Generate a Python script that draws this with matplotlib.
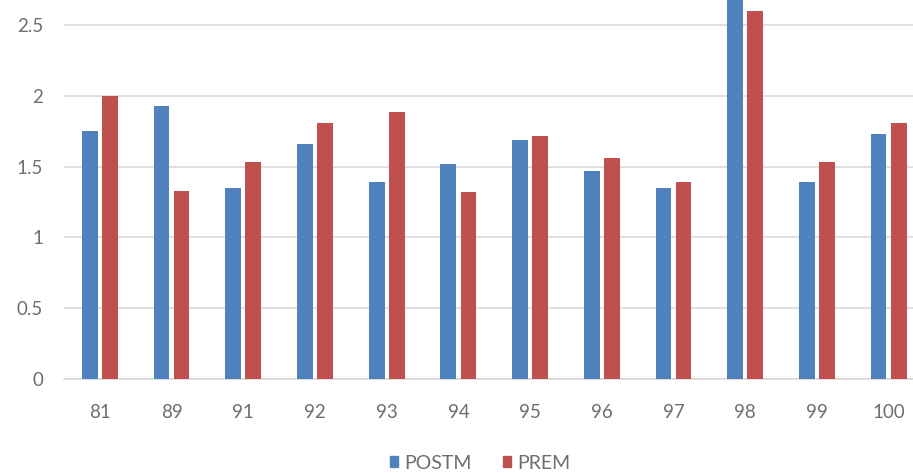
import matplotlib
matplotlib.use('Agg')

import numpy as np
import matplotlib.pyplot as plt
from matplotlib.patches import Patch

categories = ['81', '89', '91', '92', '93', '94', '95', '96', '97', '98', '99', '100']
postm = [1.75, 1.93, 1.35, 1.66, 1.39, 1.52, 1.69, 1.47, 1.35, 2.72, 1.39, 1.73]
prem = [2.00, 1.33, 1.53, 1.81, 1.89, 1.32, 1.72, 1.56, 1.39, 2.60, 1.53, 1.81]
y_ticks = [0, 0.5, 1, 1.5, 2, 2.5]

blue = '#4F81BD'
red = '#C0504D'
text_color = '#6E6E6E'

plt.rcParams['font.family'] = ['Lato', 'DejaVu Sans']

fig = plt.figure(figsize=(9.13, 4.73), dpi=100)
ax = fig.add_axes([64 / 913, 1 - 379 / 473, 1 - 64 / 913, 379 / 473])

x = np.arange(len(categories))
width = 0.22
ax.bar(x - 0.14, postm, width, color=blue, zorder=3)
ax.bar(x + 0.14, prem, width, color=red, zorder=3)

ax.set_xlim(-0.5, 11.34)
ax.set_ylim(0, 2.678)
ax.set_xticks(x)
ax.set_xticklabels(categories)
ax.set_yticks(y_ticks)
ax.set_yticklabels(['0', '0.5', '1', '1.5', '2', '2.5'])

# light excel-like gridlines
ax.grid(axis='y', color='#D9D9D9', linewidth=1.2, zorder=0)
for s in ['top', 'right', 'left']:
    ax.spines[s].set_visible(False)
ax.spines['bottom'].set_color('#D9D9D9')
ax.spines['bottom'].set_linewidth(1.2)
ax.tick_params(length=0, labelsize=13.5, colors=text_color)
ax.tick_params(axis='y', pad=15)
ax.tick_params(axis='x', pad=18)

handles = [Patch(color=blue, label='POSTM'), Patch(color=red, label='PREM')]
fig.legend(handles=handles, loc='center', bbox_to_anchor=(480 / 913, 1 - 463 / 473),
           ncol=2, frameon=False, fontsize=14, labelcolor=text_color,
           handlelength=0.45, handleheight=0.45, handletextpad=0.3, columnspacing=1.6)

fig.savefig('out.png', dpi=100)
